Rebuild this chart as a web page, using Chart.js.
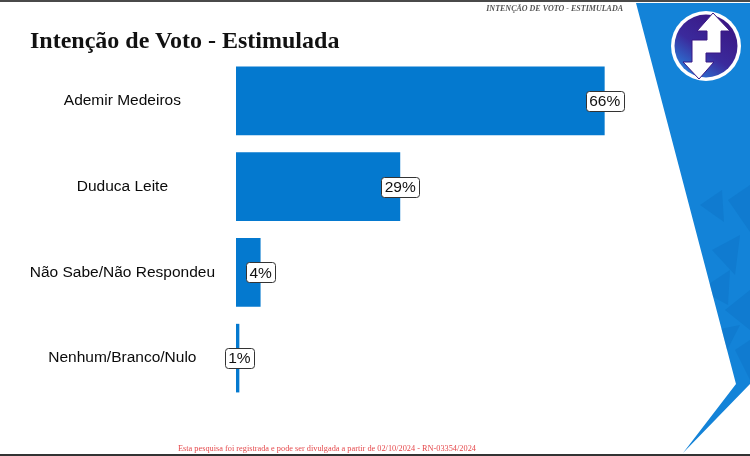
<!DOCTYPE html>
<html>
<head>
<meta charset="utf-8">
<script src="https://cdn.jsdelivr.net/npm/chart.js@4/dist/chart.umd.min.js"></script>
<style>
  html,body{margin:0;padding:0;background:#fff;}
  #wrap{position:relative;width:750px;height:456px;overflow:hidden;background:#fff;}
  #bg{position:absolute;left:0;top:0;}
  #c{position:absolute;left:0;top:0;}
  .txt{position:absolute;white-space:nowrap;}
  #title{left:30px;top:27px;font-family:"Liberation Serif",serif;font-weight:bold;font-size:24px;color:#111;}
  #hdr{right:127px;top:4px;font-family:"Liberation Serif",serif;font-style:italic;font-weight:bold;font-size:8px;color:#555;}
  #foot{left:178px;top:444px;font-family:"Liberation Serif",serif;font-size:8.3px;color:#e5484b;}
</style>
</head>
<body>
<div id="wrap">
  <svg id="bg" width="750" height="456" xmlns="http://www.w3.org/2000/svg">
    <defs>
      <clipPath id="cp"><polygon points="636,3 750,3 750,384 683,453 736,384"/></clipPath>
      <linearGradient id="lg" x1="0.8" y1="0.1" x2="0.2" y2="0.95">
        <stop offset="0" stop-color="#3a1784"/>
        <stop offset="0.55" stop-color="#3b2a9c"/>
        <stop offset="1" stop-color="#2a7ad8"/>
      </linearGradient>
    </defs>
    <rect x="0" y="0" width="750" height="2" fill="#4a4a4a"/>
    <polygon points="636,3 750,3 750,384 683,453 736,384" fill="#1383d8"/>
    <g clip-path="url(#cp)" fill="#0a6cbd" opacity="0.3">
      <polygon points="700,205 722,190 724,222"/>
      <polygon points="728,200 750,185 750,232"/>
      <polygon points="712,250 740,235 735,275"/>
      <polygon points="700,290 730,270 728,305"/>
      <polygon points="725,310 750,290 750,330"/>
      <polygon points="715,330 740,325 722,360"/>
      <polygon points="735,350 750,340 750,380"/>
    </g>
    <circle cx="706" cy="46" r="35" fill="#ffffff"/>
    <circle cx="706" cy="46" r="31.5" fill="url(#lg)"/>
    <path d="M713,13 L730,31 L721,31 L721,53 L706,53 L706,62 L714,62 L699,79 L683,62 L692,62 L692,40 L707,40 L707,31 L697,31 Z" fill="#ffffff" stroke="#3a1784" stroke-width="1"/>
    <rect x="0" y="454" width="750" height="2" fill="#333"/>
  </svg>
  <canvas id="c" width="750" height="456"></canvas>
  <div class="txt" id="title">Intenção de Voto - Estimulada</div>
  <div class="txt" id="hdr">INTENÇÃO DE VOTO - ESTIMULADA</div>
  <div class="txt" id="foot">Esta pesquisa foi registrada e pode ser divulgada a partir de 02/10/2024 - RN-03354/2024</div>
</div>
<script>
const categories = ["Ademir Medeiros", "Duduca Leite", "Não Sabe/Não Respondeu", "Nenhum/Branco/Nulo"];
const values = [66.0, 29.4, 4.4, 0.6];
const barColor = "#0479cf";

const labelPlugin = {
  id: "barLabels",
  afterDatasetsDraw(chart) {
    const ctx = chart.ctx;
    const meta = chart.getDatasetMeta(0);
    ctx.save();
    ctx.font = "15.5px 'Liberation Sans', Arial, sans-serif";
    ctx.textAlign = "center";
    ctx.textBaseline = "middle";
    meta.data.forEach((bar, i) => {
      const txt = Math.round(values[i]) + "%";
      const w = ctx.measureText(txt).width + 7;
      const h = 20;
      const x = bar.x, y = bar.y;
      ctx.beginPath();
      ctx.roundRect(Math.round(x - w / 2) + 0.5, Math.round(y - h / 2) + 0.5, Math.round(w), h, 3);
      ctx.fillStyle = "#ffffff";
      ctx.fill();
      ctx.lineWidth = 1;
      ctx.strokeStyle = "#333333";
      ctx.stroke();
      ctx.fillStyle = "#111111";
      ctx.fillText(txt, x, y + 1);
    });
    ctx.restore();
  }
};

new Chart(document.getElementById("c"), {
  type: "bar",
  data: {
    labels: categories,
    datasets: [{
      data: values,
      backgroundColor: barColor,
      borderWidth: 0,
      categoryPercentage: 1.0,
      barPercentage: 0.8
    }]
  },
  options: {
    indexAxis: "y",
    responsive: false,
    animation: false,
    devicePixelRatio: 1,
    layout: { padding: { left: 0, top: 58, right: 123, bottom: 55 } },
    plugins: { legend: { display: false }, tooltip: { enabled: false }, title: { display: false } },
    scales: {
      x: { display: false, min: 0, max: 70 },
      y: {
        grid: { display: false, drawTicks: false },
        border: { display: false },
        ticks: {
          crossAlign: "center",
          padding: 21,
          color: "#0a0a0a",
          font: { family: "'Liberation Sans', Arial, sans-serif", size: 15.5 }
        },
        afterFit(scale) { scale.width = 236; }
      }
    }
  },
  plugins: [labelPlugin]
});
</script>
</body>
</html>
